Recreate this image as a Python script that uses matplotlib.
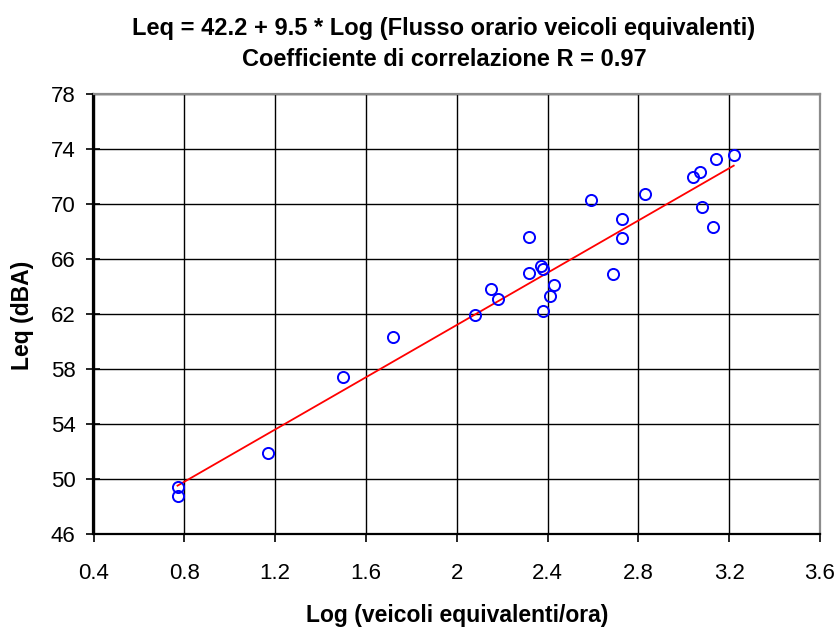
import matplotlib

matplotlib.use("Agg")
import matplotlib.pyplot as plt  # noqa: E402
import numpy as np  # noqa: E402

plt.rcParams["font.family"] = ["Liberation Sans", "DejaVu Sans"]

log_flow = [0.77, 0.77, 1.17, 1.50, 1.72, 2.08, 2.15, 2.18, 2.32, 2.32,
            2.37, 2.38, 2.38, 2.41, 2.43, 2.59, 2.69, 2.73, 2.73, 2.83,
            3.04, 3.07, 3.08, 3.13, 3.14, 3.22]
leq = [49.4, 48.8, 51.9, 57.4, 60.3, 61.9, 63.8, 63.1, 67.6, 65.0,
       65.5, 65.3, 62.2, 63.3, 64.1, 70.3, 64.9, 68.9, 67.5, 70.7,
       72.0, 72.3, 69.8, 68.3, 73.3, 73.6]

# regression line Leq = a + b * Log
fit_a = 42.2
fit_b = 9.5

x_ticks = [0.4, 0.8, 1.2, 1.6, 2.0, 2.4, 2.8, 3.2, 3.6]
x_labels = ["0.4", "0.8", "1.2", "1.6", "2", "2.4", "2.8", "3.2", "3.6"]
y_ticks = [46, 50, 54, 58, 62, 66, 70, 74, 78]

W, H = 837, 628
fig = plt.figure(figsize=(W / 100, H / 100), dpi=100)
ax = fig.add_axes([93.5 / W, 1 - 534 / H, 726.5 / W, 440 / H])

fit_x = np.array([min(log_flow), max(log_flow)])
ax.plot(fit_x, fit_a + fit_b * fit_x, color="#ff0000", linewidth=1.3, zorder=3)
ax.plot(log_flow, leq, linestyle="none", marker="o", markersize=8,
        markerfacecolor="none", markeredgecolor="#0000ff",
        markeredgewidth=1.4, zorder=4)

ax.set_xlim(0.4, 3.6)
ax.set_ylim(46, 78)
ax.set_xticks(x_ticks)
ax.set_xticklabels(x_labels)
ax.set_yticks(y_ticks)
ax.grid(True, color="black", linewidth=1.0)
ax.set_axisbelow(True)

for side in ("left", "bottom"):
    ax.spines[side].set_linewidth(1.6)
    ax.spines[side].set_color("black")
for side in ("top", "right"):
    ax.spines[side].set_linewidth(1.6)
    ax.spines[side].set_color("#8c8c8c")

ax.tick_params(axis="x", direction="out", length=6, width=1.2,
               labelsize=16, pad=15, color="black")
ax.tick_params(axis="y", direction="inout", length=10, width=1.2,
               labelsize=16, pad=8, color="black")

# axis titles placed in figure pixels, as in the reference
fig.text(457 / W, 1 - 622 / H, "Log (veicoli equivalenti/ora)",
         ha="center", va="baseline", fontsize=16.5, fontweight="bold")
fig.text(23 / W, 1 - 315 / H, "Leq (dBA)", rotation=90,
         ha="center", va="center", fontsize=16.5, fontweight="bold")

fig.text(444 / W, 1 - 34.5 / H,
         "Leq = 42.2 + 9.5 * Log (Flusso orario veicoli equivalenti)",
         ha="center", va="baseline", fontsize=17, fontweight="bold")
fig.text(444 / W, 1 - 66.5 / H, "Coefficiente di correlazione R = 0.97",
         ha="center", va="baseline", fontsize=17, fontweight="bold")

fig.savefig("out.png", dpi=100)
